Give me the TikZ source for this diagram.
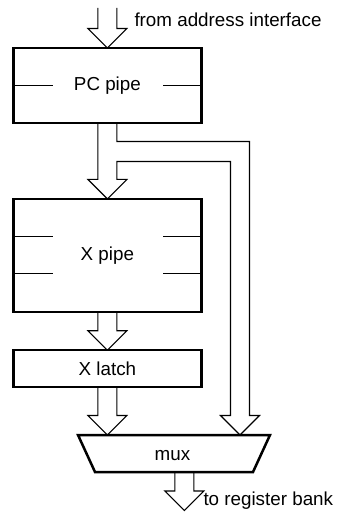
\documentclass[tikz,border=0pt]{standalone}
\usepackage{fontspec}
\setmainfont{Liberation Sans}
\usetikzlibrary{calc}
\newcommand\hollowarrow[2]{%
  \draw[bus] let \p1=(#1), \p2=(#2) in
    (\x2-4.75pt,\y1) -- (\x2-4.75pt,\y2+9.75pt) -- (\x2-9.75pt,\y2+9.75pt)
    -- (\x2,\y2) -- (\x2+9.75pt,\y2+9.75pt) -- (\x2+4.75pt,\y2+9.75pt)
    -- (\x2+4.75pt,\y1);}
\begin{document}
\begin{tikzpicture}[x=0.5pt,y=-0.5pt,
  every node/.style={font=\fontsize{9.4}{11}\selectfont, inner sep=0pt, outer sep=0pt},
  blockbox/.style={draw, line width=1.25pt, minimum width=94pt},
  bus/.style={line width=0.55pt},
  tick/.style={line width=0.55pt},
  lbl/.style={anchor=base west}]
\useasboundingbox (0,0) rectangle (345,512);

% blocks
\node[blockbox, minimum height=37.5pt] (pc) at (107.4,85.5) {PC pipe};
\node[blockbox, minimum height=56.5pt] (xp) at (107.4,255.4) {X pipe};
\node[blockbox, minimum height=18.5pt] (xl) at (107.4,368.7) {X latch};
\node[minimum width=96pt, minimum height=18.5pt] (mux) at (174,453.5) {};
\draw[line width=1.25pt] (mux.north west) -- (mux.north east)
  -- ($(mux.south east)+(-8.5pt,0)$) -- ($(mux.south west)+(8.5pt,0)$) -- cycle;
\node (muxlbl) at ($(mux.center)+(-1.5,2.5)$) {mux};

% internal ticks
\draw[tick] (pc.west) -- ++(19.65pt,0);
\draw[tick] (pc.east) -- ++(-19pt,0);
\draw[tick] ($(xp.west)+(0,9.25pt)$) -- ++(19.65pt,0);
\draw[tick] ($(xp.west)+(0,-9.25pt)$) -- ++(19.65pt,0);
\draw[tick] ($(xp.east)+(0,9.25pt)$) -- ++(-19pt,0);
\draw[tick] ($(xp.east)+(0,-9.25pt)$) -- ++(-19pt,0);

% connection points
\coordinate (src) at (107.6,8);
\coordinate (ml) at (107.4,435);
\coordinate (mr) at (240,435);
\coordinate (mo) at (184.3,472);
\coordinate (dst) at (184.3,510.5);

% wide arrows
\hollowarrow{src}{pc.north}
\hollowarrow{xp.south}{xl.north}
\hollowarrow{xl.south}{ml}
\hollowarrow{mo}{dst}

% PC pipe to X pipe plus bypass to mux
\draw[bus] let \p1=(pc.south), \p2=(xp.north), \p3=(mr) in
  (\x1+4.75pt,\y1) -- (\x1+4.75pt,\y1-9.25pt) -- (\x3+4.75pt,\y1-9.25pt)
  -- (\x3+4.75pt,\y3+9.75pt) -- (\x3+9.75pt,\y3+9.75pt) -- (\x3,\y3)
  -- (\x3-9.75pt,\y3+9.75pt) -- (\x3-4.75pt,\y3+9.75pt)
  -- (\x3-4.75pt,\y1-19.25pt) -- (\x2+4.75pt,\y1-19.25pt)
  -- (\x2+4.75pt,\y2+9.75pt) -- (\x2+9.75pt,\y2+9.75pt) -- (\x2,\y2)
  -- (\x2-9.75pt,\y2+9.75pt) -- (\x2-4.75pt,\y2+9.75pt) -- (\x2-4.75pt,\y1);

% labels
\node[lbl] (lin) at (134.5,26.5) {from address interface};
\node[lbl] (lout) at (203.5,505.5) {to register bank};
\end{tikzpicture}
\end{document}
